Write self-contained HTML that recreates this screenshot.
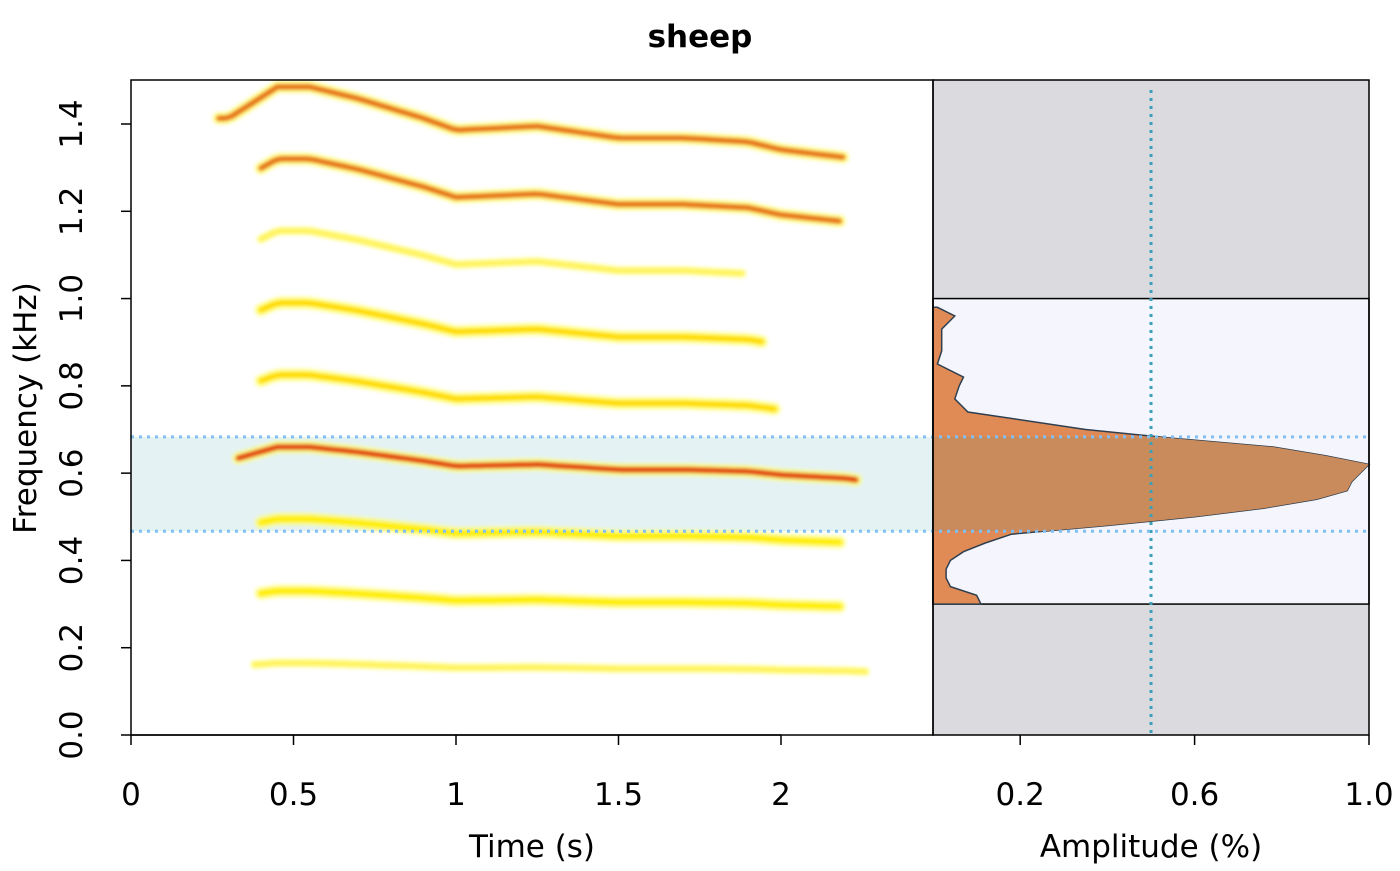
<!DOCTYPE html>
<html><head><meta charset="utf-8"><style>
body{margin:0;background:#fff;}
svg text{font-family:"DejaVu Sans","Liberation Sans",sans-serif;}
</style></head><body>
<svg id="chart" width="1400" height="866" xmlns="http://www.w3.org/2000/svg">
<defs>
<filter id="blur" x="-10%" y="-50%" width="120%" height="200%"><feGaussianBlur stdDeviation="1.8"/></filter>
<clipPath id="clipL"><rect x="131" y="80" width="802" height="655"/></clipPath>
</defs>
<text x="700" y="47" text-anchor="middle" font-size="31" font-weight="bold">sheep</text>
<g id="left"></g>
<g id="right"></g>
<g id="axes"></g>
</svg>
<script>
const times=[0.3,0.45,0.55,0.7,0.9,1.0,1.25,1.5,1.7,1.9,2.0,2.2,2.27];
const f0=[0.157,0.165,0.165,0.162,0.157,0.154,0.155,0.152,0.152,0.151,0.149,0.147,0.145];
const harmonicEnds=[2.27,2.2,2.2,2.25,2.0,1.95,1.9,2.2,2.2];
const harmonicStarts=[0.38,0.4,0.4,0.33,0.4,0.4,0.4,0.4,0.27];
const harmonicLevel=[0.5,1,1,3,1.2,1.2,0.5,2,2];
const bandLow=0.467, bandHigh=0.683;
const freqRangeLow=0.3, freqRangeHigh=1.0;
const meanAmp=0.5;
const profFreq=[0.98,0.96,0.93,0.88,0.85,0.82,0.80,0.77,0.74,0.70,0.68,0.66,0.64,0.62,0.60,0.58,0.56,0.54,0.52,0.50,0.48,0.46,0.44,0.42,0.40,0.38,0.36,0.34,0.32,0.30];
const profAmp=[0.01,0.05,0.02,0.02,0.01,0.07,0.06,0.05,0.08,0.35,0.55,0.78,0.9,1.0,0.98,0.96,0.95,0.88,0.76,0.6,0.4,0.18,0.12,0.07,0.04,0.03,0.03,0.04,0.1,0.11];
const timeTicks=[0,0.5,1,1.5,2];
const timeTickLabels=["0","0.5","1","1.5","2"];
const freqTicks=[0,0.2,0.4,0.6,0.8,1.0,1.2,1.4];
const freqTickLabels=["0.0","0.2","0.4","0.6","0.8","1.0","1.2","1.4"];
const ampTicks=[0.2,0.6,1.0];
const ampTickLabels=["0.2","0.6","1.0"];

const NS="http://www.w3.org/2000/svg";
const FS=31;
const X=t=>131+t*325, Y=f=>735-f*(611/1.4), A=a=>933+a*436;
function mk(tag,attrs,parent){const e=document.createElementNS(NS,tag);for(const k in attrs)e.setAttribute(k,attrs[k]);parent.appendChild(e);return e;}
const L=document.getElementById('left'),R=document.getElementById('right'),AX=document.getElementById('axes');
function f0at(t){if(t<=times[0])return f0[0];for(let i=1;i<times.length;i++){if(t<=times[i]){const u=(t-times[i-1])/(times[i]-times[i-1]);return f0[i-1]+u*(f0[i]-f0[i-1]);}}return f0[f0.length-1];}

const band=mk('rect',{x:131,y:Y(bandHigh),width:802,height:Y(bandLow)-Y(bandHigh),fill:'#e4f2f4'},L);

const hg=mk('g',{'clip-path':'url(#clipL)'},L);
const hgb=mk('g',{filter:'url(#blur)'},hg);
harmonicLevel.forEach((lv,i)=>{
  const k=i+1;let pts=[];
  for(let t=harmonicStarts[i];t<=harmonicEnds[i];t+=0.02)pts.push(X(t).toFixed(1)+','+Y(k*f0at(t)).toFixed(1));
  const d='M'+pts.join('L');
  const g=mk('g',{fill:'none','stroke-linecap':'round','stroke-linejoin':'round'},hgb);
  
  mk('path',{d:d,stroke:'#ffff80',opacity:0.7,'stroke-width':lv<1?9:13},g);
  mk('path',{d:d,stroke:lv<1?'#fff25a':'#ffee00','stroke-width':lv<1?5:7},g);
  if(lv>=1.2&&lv<2)mk('path',{d:d,stroke:'#ffd000','stroke-width':3},g);
  if(lv>=2)mk('path',{d:d,stroke:'#f08a20','stroke-width':6},g);
  if(lv>=2)mk('path',{d:d,stroke:'#e0601a','stroke-width':3},g);
  if(lv>=3)mk('path',{d:d,stroke:'#e02a10','stroke-width':5},g);
});
[bandHigh,bandLow].forEach((f,i)=>{const l=mk('line',{x1:131,x2:1369,y1:Y(f),y2:Y(f),stroke:'#7fbff5','stroke-width':3,'stroke-dasharray':'3,5'},AX);
});
const fl=mk('rect',{x:131,y:80,width:802,height:655,fill:'none',stroke:'#000','stroke-width':1.5},AX);


const rb=mk('rect',{x:933,y:80,width:436,height:655,fill:'#dadadf'},R);

const rm=mk('rect',{x:933,y:Y(freqRangeHigh),width:436,height:Y(freqRangeLow)-Y(freqRangeHigh),fill:'#f5f6fd',stroke:'#000','stroke-width':1.5},R);

let pp=[A(0)+','+Y(profFreq[0])];profFreq.forEach((f,i)=>pp.push(A(profAmp[i]).toFixed(1)+','+Y(f).toFixed(1)));pp.push(A(0)+','+Y(profFreq[profFreq.length-1]));
const prof=mk('polygon',{points:pp.join(' '),fill:'#e08b55',stroke:'#2f3f4f','stroke-width':1.5},R);

const cp=mk('clipPath',{id:'clipB'},document.querySelector('defs'));mk('rect',{x:933,y:Y(bandHigh),width:436,height:Y(bandLow)-Y(bandHigh)},cp);
const inBand=mk('polygon',{points:pp.join(' '),fill:'#c98a5c',stroke:'none','clip-path':'url(#clipB)'},R);

const ml=mk('line',{x1:A(meanAmp),x2:A(meanAmp),y1:90,y2:735,stroke:'#3aa0b5','stroke-width':3,'stroke-dasharray':'3,5'},R);

const rf=mk('rect',{x:933,y:80,width:436,height:655,fill:'none',stroke:'#000','stroke-width':1.5},AX);


timeTicks.forEach((t,i)=>{mk('line',{x1:X(t),x2:X(t),y1:735,y2:745,stroke:'#000','stroke-width':1.5},AX);
const tx=mk('text',{x:X(t),y:805,'text-anchor':'middle','font-size':FS},AX);tx.textContent=timeTickLabels[i];
});
mk('line',{x1:131,x2:781,y1:735,y2:735,stroke:'#000','stroke-width':1.5},AX);
ampTicks.forEach((a,i)=>{mk('line',{x1:A(a),x2:A(a),y1:735,y2:745,stroke:'#000','stroke-width':1.5},AX);
const tx=mk('text',{x:A(a),y:805,'text-anchor':'middle','font-size':FS},AX);tx.textContent=ampTickLabels[i];
});
freqTicks.forEach((f,i)=>{mk('line',{x1:121,x2:131,y1:Y(f),y2:Y(f),stroke:'#000','stroke-width':1.5},AX);
const tx=mk('text',{x:0,y:0,'text-anchor':'middle','font-size':FS,transform:`translate(82,${Y(f)}) rotate(-90)`},AX);tx.textContent=freqTickLabels[i];
});
const xt=mk('text',{x:532,y:857,'text-anchor':'middle','font-size':FS},AX);xt.textContent='Time (s)';

const at=mk('text',{x:1151,y:857,'text-anchor':'middle','font-size':FS},AX);at.textContent='Amplitude (%)';

const yt=mk('text',{x:0,y:0,'text-anchor':'middle','font-size':FS,transform:'translate(36,408) rotate(-90)'},AX);yt.textContent='Frequency (kHz)';

</script>
</body></html>
